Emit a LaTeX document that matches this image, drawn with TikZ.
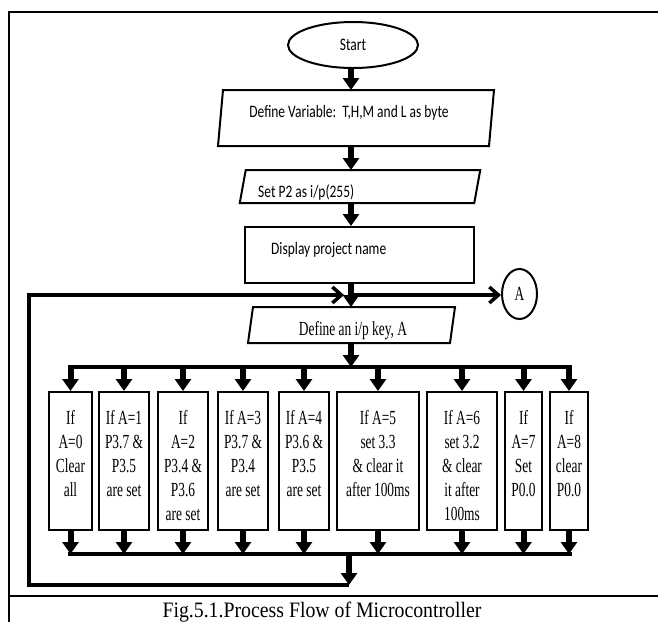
\documentclass[tikz,border=0pt]{standalone}
\usepackage{fontspec}
\setmainfont{Liberation Serif}
\newfontfamily\headfont[FakeStretch=0.77]{Carlito}
\newfontfamily\stepfont[FakeStretch=0.67]{Liberation Serif}
\newfontfamily\capfont[FakeStretch=0.9]{Liberation Serif}
\usetikzlibrary{arrows.meta,shapes.geometric}

% top-aligned lines inside a case box of fixed height
\newcommand\casetext[2]{\parbox[c][138pt][t]{#1}{\centering\vspace*{18pt}#2\par}}
% slanted outline around a rectangular node: #1 node name, #2 half slant
\newcommand\slantoutline[2]{%
  \draw[outline] ([xshift=-#2]#1.south west) -- ([xshift=#2]#1.north west)
    -- ([xshift=#2]#1.north east) -- ([xshift=-#2]#1.south east) -- cycle;}

\begin{document}
\begin{tikzpicture}[x=1pt,y=-1pt,
  outline/.style={draw=black,line width=2pt},
  io/.style={rectangle,inner sep=0pt,outer sep=0pt},
  headtxt/.style={font=\headfont\fontsize{17.5}{21}\selectfont,inner sep=0pt},
  steptxt/.style={font=\stepfont\fontsize{20}{24}\selectfont,inner sep=0pt},
  casebox/.style={outline,rectangle,inner sep=0pt,font=\stepfont\fontsize{20}{24}\selectfont},
  flow/.style={line width=6pt,-{Triangle[width=16pt,length=12pt]}},
  busline/.style={line width=3.3pt,shorten <=-3pt,shorten >=-3pt},
  loopline/.style={line width=3.5pt,-{Straight Barb[width=16pt,length=9pt]}},
  frameline/.style={line width=2.6pt}]
\useasboundingbox (0,0) rectangle (658,622);

% frame and caption
\draw[frameline] (9,622) -- (9,12) -- (658,12);
\draw[frameline] (9,596) -- (658,596);
\node[font=\capfont\fontsize{22}{26}\selectfont,anchor=base,inner sep=0pt] (cap) at (322,617) {Fig.5.1.Process Flow of Microcontroller};

% helper coordinates
\coordinate (col) at (351,0);
\coordinate (join) at (351,295);
\coordinate (bustop) at (0,367);
\coordinate (busbot) at (0,554);
\coordinate (ret) at (349,585);
\coordinate (lx) at (29,0);

% upper chain
\node[outline,ellipse,minimum width=130pt,minimum height=46pt,inner sep=0pt,headtxt] (start) at (353,45) {Start};

\node[io,minimum width=271pt,minimum height=56pt] (p1) at (356,118) {};
\slantoutline{p1}{2.5pt}
\node[headtxt,anchor=base] (p1t) at (349,117) {Define Variable:~~T,H,M and L as byte};

\node[io,minimum width=234.5pt,minimum height=33pt] (p2) at (360,186.5) {};
\slantoutline{p2}{3pt}
\node[headtxt,anchor=base west] (p2t) at (258,197) {Set P2 as i/p(255)};

\node[outline,rectangle,minimum width=229pt,minimum height=56pt,inner sep=0pt] (disp) at (359.5,255) {};
\node[headtxt,anchor=base west] (dispt) at (271,254) {Display project name};

\node[outline,ellipse,minimum width=35pt,minimum height=50pt,inner sep=0pt,steptxt] (conA) at (519.5,294) {A};

\node[io,minimum width=202pt,minimum height=36pt] (p3) at (351.5,325) {};
\slantoutline{p3}{2.5pt}
\node[steptxt,anchor=base] (p3t) at (353,335.5) {Define an i/p key, A};

% case boxes
\node[casebox] (c1) at (70.5,461) {\casetext{43pt}{If\\A=0\\Clear\\all}};
\node[casebox] (c2) at (124,461) {\casetext{50pt}{If A=1\\P3.7 \&\\P3.5\\are set}};
\node[casebox] (c3) at (183,461) {\casetext{50pt}{If\\A=2\\P3.4 \&\\P3.6\\are set}};
\node[casebox] (c4) at (243,461) {\casetext{50pt}{If A=3\\P3.7 \&\\P3.4\\are set}};
\node[casebox] (c5) at (304,461) {\casetext{50pt}{If A=4\\P3.6 \&\\P3.5\\are set}};
\node[casebox] (c6) at (378,461) {\casetext{82pt}{If A=5\\set 3.3\\\& clear it\\after 100ms}};
\node[casebox] (c7) at (462,461) {\casetext{70pt}{If A=6\\set 3.2\\\& clear\\it after\\100ms}};
\node[casebox] (c8) at (523.5,461) {\casetext{37pt}{If\\A=7\\Set\\P0.0}};
\node[casebox] (c9) at (569,461) {\casetext{38pt}{If\\A=8\\clear\\P0.0}};

% return loop and connector A
\draw[loopline,shorten >=7pt] (ret) -- (ret -| lx) -- (lx |- join) -- (join);
\draw[loopline] (join) -- (join -| conA.west);

% main flow
\draw[flow] (start.south -| col) -- (p1.north -| col);
\draw[flow] (p1.south -| col) -- (p2.north -| col);
\draw[flow] (p2.south -| col) -- (disp.north -| col);
\draw[flow] (disp.south -| col) -- (p3.north -| col);
\draw[flow] (p3.south -| col) -- (col |- bustop);

% fan out and fan in
\draw[busline] (c1.north |- bustop) -- (c9.north |- bustop);
\foreach \n in {1,...,9} \draw[flow] (c\n.north |- bustop) -- (c\n.north);
\foreach \n in {1,...,9} \draw[flow] (c\n.south) -- (c\n.south |- busbot);
\draw[busline] (c1.south |- busbot) -- (c9.south |- busbot);
\draw[flow] (ret |- busbot) -- (ret);
\end{tikzpicture}
\end{document}
